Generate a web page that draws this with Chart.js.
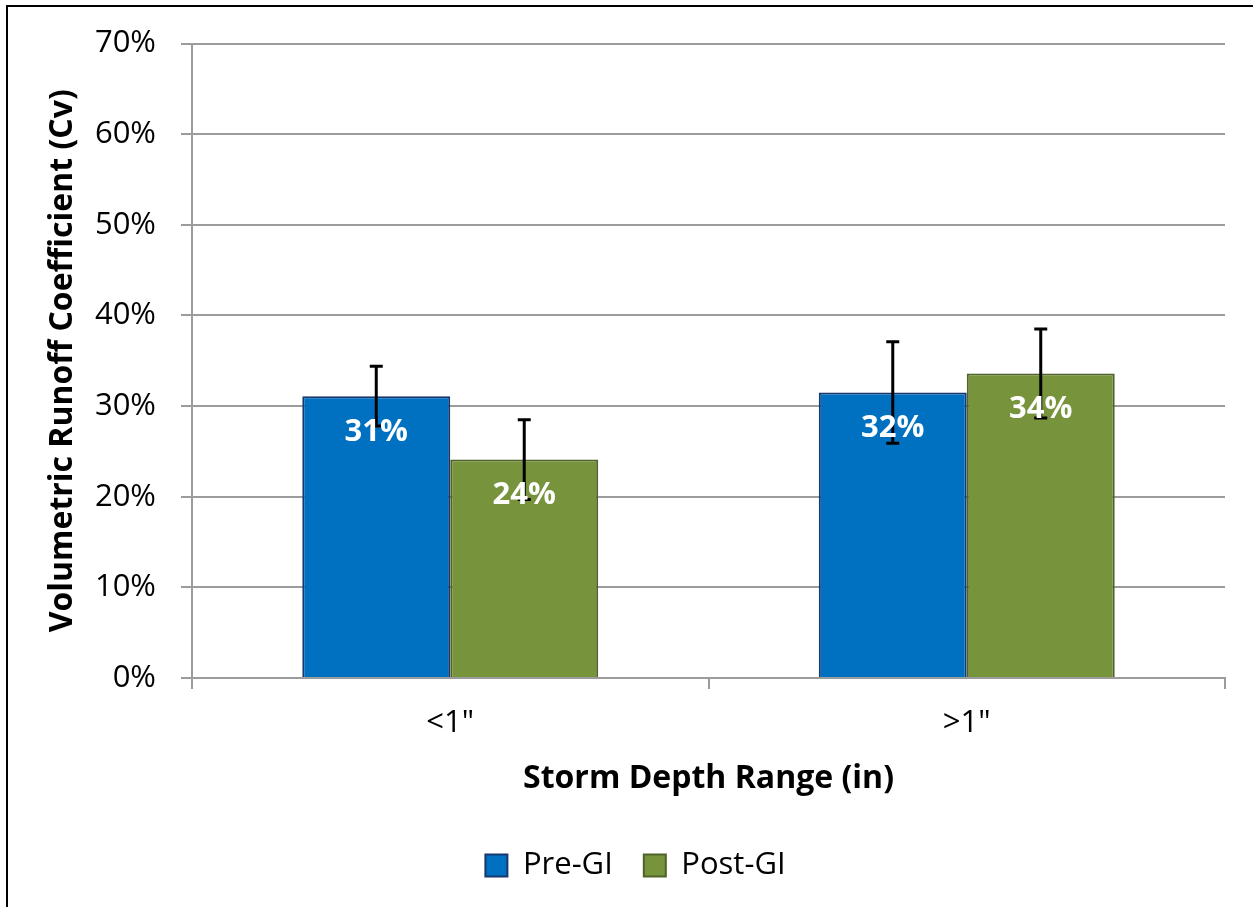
<!DOCTYPE html>
<html>
<head>
<meta charset="utf-8">
<script src="https://cdn.jsdelivr.net/npm/chart.js@4.4.1/dist/chart.umd.min.js"></script>
<style>
  html, body { margin: 0; padding: 0; background: #fff; }
  canvas { display: block; }
</style>
</head>
<body>
<canvas id="cvChart" width="1253" height="907"></canvas>
<script>
// Storm depth categories and runoff coefficients (%)
const categories = ['<1"', '>1"'];
const preGI = [31.1, 31.5];
const postGI = [24.1, 33.6];
const preGIErr = [3.3, 5.6];
const postGIErr = [4.4, 4.9];
const yTicks = [0, 10, 20, 30, 40, 50, 60, 70];

const FONT = '"Open Sans", "DejaVu Sans", sans-serif';
const GRID = '#9c9c9c';

// white page + the black frame at top/left
const framePlugin = {
  id: 'frame',
  beforeDraw(chart) {
    const ctx = chart.ctx;
    ctx.save();
    ctx.fillStyle = '#fff';
    ctx.fillRect(0, 0, chart.width, chart.height);
    ctx.strokeStyle = '#000';
    ctx.lineWidth = 2;
    ctx.beginPath();
    ctx.moveTo(7, chart.height);
    ctx.lineTo(7, 6);
    ctx.lineTo(chart.width, 6);
    ctx.stroke();
    ctx.restore();
  },
  // legend in the original sits a bit right of the canvas centre
  afterLayout(chart) {
    if (chart.legend) {
      chart.legend.left += 23;
      chart.legend.right += 23;
    }
  }
};

// error bars, then value labels on top of them
const errorLabelPlugin = {
  id: 'errorLabels',
  afterDatasetsDraw(chart) {
    const ctx = chart.ctx;
    const y = chart.scales.y;
    const errs = [preGIErr, postGIErr];
    ctx.save();
    chart.data.datasets.forEach((ds, di) => {
      chart.getDatasetMeta(di).data.forEach((bar, i) => {
        const v = ds.data[i];
        const yt = y.getPixelForValue(v + errs[di][i]);
        const yb = y.getPixelForValue(v - errs[di][i]);
        ctx.strokeStyle = '#000';
        ctx.lineWidth = 3;
        ctx.beginPath();
        ctx.moveTo(bar.x, yt);
        ctx.lineTo(bar.x, yb);
        ctx.moveTo(bar.x - 6.5, yt);
        ctx.lineTo(bar.x + 6.5, yt);
        ctx.moveTo(bar.x - 6.5, yb);
        ctx.lineTo(bar.x + 6.5, yb);
        ctx.stroke();
      });
    });
    chart.data.datasets.forEach((ds, di) => {
      chart.getDatasetMeta(di).data.forEach((bar, i) => {
        ctx.fillStyle = '#fff';
        ctx.font = 'bold 31px ' + FONT;
        ctx.textAlign = 'center';
        ctx.textBaseline = 'middle';
        ctx.fillText(Math.round(ds.data[i]) + '%', bar.x, bar.y + 36);
      });
    });
    ctx.restore();
  }
};

new Chart(document.getElementById('cvChart'), {
  type: 'bar',
  data: {
    labels: categories,
    datasets: [
      {
        label: 'Pre-GI',
        data: preGI,
        backgroundColor: '#0070C0',
        borderColor: '#17376E',
        borderWidth: 2
      },
      {
        label: 'Post-GI',
        data: postGI,
        backgroundColor: '#77933C',
        borderColor: '#4F6228',
        borderWidth: 2
      }
    ]
  },
  options: {
    responsive: false,
    animation: false,
    categoryPercentage: 0.573,
    barPercentage: 1.0,
    layout: { padding: { left: 0, top: 42, right: 28, bottom: 16 } },
    plugins: {
      legend: {
        position: 'bottom',
        labels: {
          font: { family: FONT, size: 31 },
          color: '#000',
          boxWidth: 22,
          boxHeight: 22,
          padding: 31
        }
      },
      tooltip: { enabled: false }
    },
    scales: {
      x: {
        afterFit: s => { s.height = 141; },
        grid: {
          offset: true,
          drawOnChartArea: false,
          tickLength: 11,
          color: GRID,
          lineWidth: 2
        },
        border: { color: GRID, width: 2 },
        ticks: {
          font: { family: FONT, size: 31 },
          color: '#000',
          padding: 16
        },
        title: {
          display: true,
          text: 'Storm Depth Range (in)',
          font: { family: FONT, size: 32, weight: 'bold' },
          color: '#000',
          padding: { top: 0, bottom: 21 }
        }
      },
      y: {
        min: 0,
        max: 70,
        afterFit: s => { s.width = 192; },
        afterBuildTicks: s => { s.ticks = yTicks.map(v => ({ value: v })); },
        grid: {
          color: GRID,
          lineWidth: 2,
          tickLength: 11
        },
        border: { color: GRID, width: 2 },
        ticks: {
          font: { family: FONT, size: 31 },
          color: '#000',
          padding: 25,
          callback: v => v + '%'
        },
        title: {
          display: true,
          text: 'Volumetric Runoff Coefficient (Cv)',
          font: { family: FONT, size: 32, weight: 'bold' },
          color: '#000',
          padding: { top: 44, bottom: 0 }
        }
      }
    }
  },
  plugins: [framePlugin, errorLabelPlugin]
});
</script>
</body>
</html>
